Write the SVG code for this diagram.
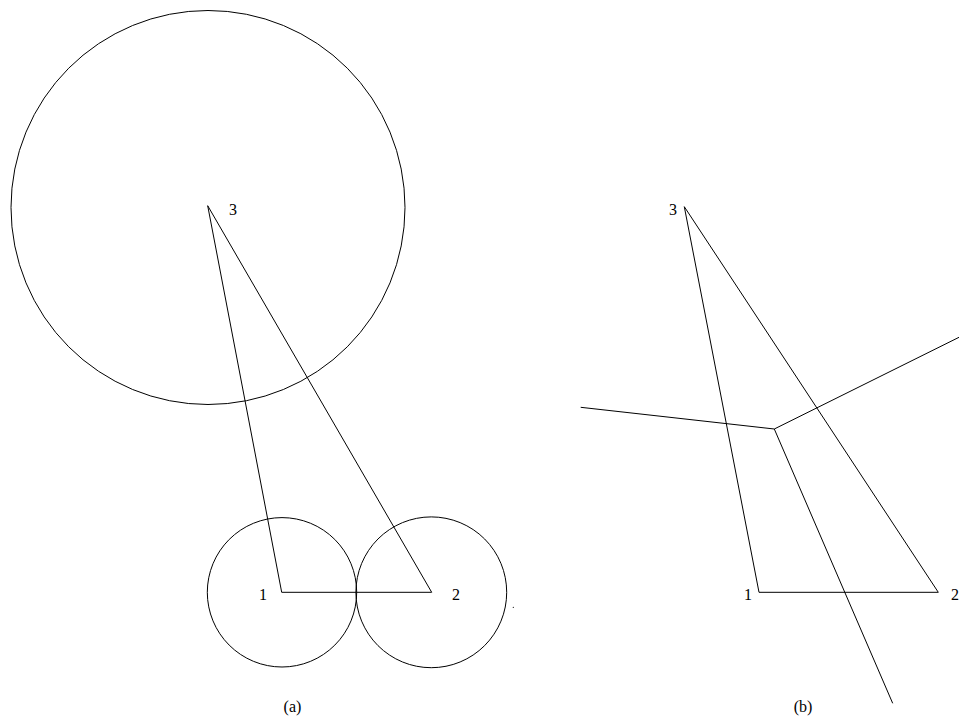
<svg xmlns="http://www.w3.org/2000/svg" width="959" height="717" viewBox="0 0 959 717">
<style>
.s{fill:none;stroke:#000;stroke-width:1}
.t{font-family:"Liberation Serif","Times New Roman",serif;font-size:16px;fill:#000}
</style>
<rect width="959" height="717" fill="#fff"/>
<g id="panel-a">
  <g id="a-circles">
    <circle class="s" cx="208" cy="207.5" r="197"/>
    <circle class="s" cx="282" cy="592.3" r="74.7"/>
    <circle class="s" cx="431.3" cy="592.3" r="75.4"/>
  </g>
  <g id="a-edges">
    <polygon class="s" points="207.7,205.7 281.7,592.3 431.7,592.3"/>
  </g>
  <g id="a-node1"><text class="t" x="259" y="600">1</text></g>
  <g id="a-node2"><text class="t" x="452" y="600">2</text></g>
  <g id="a-node3"><text class="t" x="229" y="215">3</text></g>
  <circle cx="513.3" cy="607.3" r="0.6" fill="#000"/>
  <text class="t" x="292.5" y="712" text-anchor="middle">(a)</text>
</g>
<g id="panel-b">
  <g id="b-edges">
    <polygon class="s" points="684.3,206.7 759,592.3 938.3,592.3"/>
    <polyline class="s" points="580.7,407.3 774.3,429 959,337.3"/>
    <line class="s" x1="774.3" y1="429" x2="892.7" y2="703.3"/>
  </g>
  <g id="b-node1"><text class="t" x="744" y="600">1</text></g>
  <g id="b-node2"><text class="t" x="951" y="600">2</text></g>
  <g id="b-node3"><text class="t" x="669" y="215">3</text></g>
  <text class="t" x="803" y="712" text-anchor="middle">(b)</text>
</g>
</svg>
